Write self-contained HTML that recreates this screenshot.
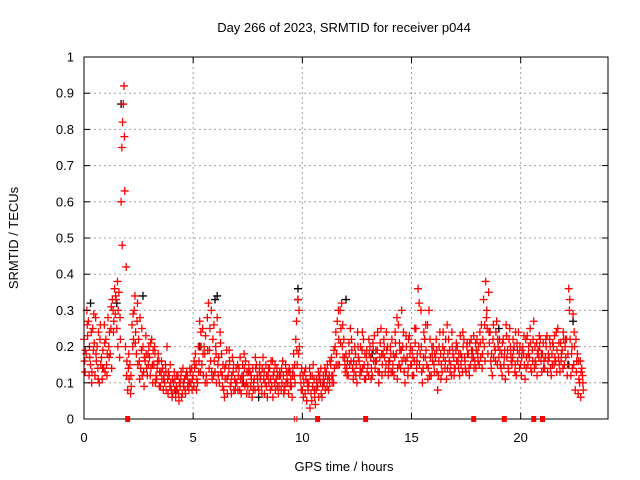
<!DOCTYPE html>
<html><head><meta charset="utf-8"><style>
html,body{margin:0;padding:0;background:#fff}
svg{display:block;font-family:"Liberation Sans",sans-serif}
</style></head><body>
<svg id="chart" width="640" height="480" viewBox="0 0 640 480" xmlns="http://www.w3.org/2000/svg">
<rect width="640" height="480" fill="#fff"/>
<text x="344" y="32" font-size="13" text-anchor="middle">Day 266 of 2023, SRMTID for receiver p044</text>
<text x="344" y="471" font-size="13" text-anchor="middle">GPS time / hours</text>
<text x="18" y="238" font-size="13" text-anchor="middle" transform="rotate(-90 18 238)">SRMTID / TECUs</text>
<g id="grid"></g>
<g id="black"></g>
<g id="red"></g>
<g id="axes"></g>
</svg>
<script>
const xTicks=[0,5,10,15,20];
const yTicks=[0,0.1,0.2,0.3,0.4,0.5,0.6,0.7,0.8,0.9,1];
const yTickLabels=["0","0.1","0.2","0.3","0.4","0.5","0.6","0.7","0.8","0.9","1"];
const redA=[.22,.18,.27,.15,.25,.12,.20,.10,.17,.14,
.22,.28,.18,.33,.36,.25,.35,.60,.87,.20,
.08,.15,.26,.30,.18,.22,.14,.20,.16,.12,
.17,.22,.15,.12,.18,.09,.14,.10,.20,.12,
.08,.10,.06,.12,.09,.07,.11,.13,.08,.10,
.12,.18,.10,.27,.15,.20,.12,.32,.16,.22,
.13,.28,.10,.18,.08,.15,.12,.09,.17,.11,
.10,.14,.07,.12,.16,.09,.13,.06,.11,.15,
.08,.12,.17,.10,.06,.14,.09,.13,.11,.07,
.12,.16,.08,.11,.14,.09,.18,.22,.33,.12,
.08,.13,.05,.10,.07,.15,.04,.09,.12,.06,
.10,.13,.08,.15,.12,.20,.27,.15,.32,.22,
.18,.12,.25,.14,.20,.10,.16,.13,.22,.11,
.15,.20,.12,.23,.16,.10,.25,.18,.13,.20,
.16,.22,.12,.18,.26,.14,.20,.10,.17,.23,
.15,.12,.25,.36,.18,.10,.22,.15,.30,.12,
.20,.17,.08,.24,.13,.19,.11,.22,.15,.18,
.14,.20,.12,.17,.22,.13,.18,.15,.19,.16,
.22,.15,.26,.33,.38,.18,.24,.12,.20,.27,
.17,.14,.22,.11,.19,.25,.15,.20,.12,.24,
.15,.20,.11,.23,.17,.13,.27,.15,.19,.22,
.18,.14,.23,.17,.12,.20,.16,.25,.13,.19,
.15,.22,.36,.12,.29,.08,.18,.10,.14];
const redB=[.16,.30,.12,.24,.19,.28,.14,.22,.11,.26,
.15,.20,.25,.30,.29,.38,.17,.75,.92,.42,
.14,.07,.20,.34,.27,.16,.19,.13,.23,.18,
.12,.15,.20,.11,.16,.13,.08,.15,.11,.09,
.06,.13,.09,.07,.11,.14,.08,.12,.10,.14,
.09,.15,.20,.13,.25,.18,.10,.14,.30,.12,
.20,.15,.24,.12,.06,.19,.14,.10,.13,.08,
.15,.08,.12,.18,.10,.13,.09,.14,.08,.12,
.13,.09,.11,.15,.12,.08,.16,.10,.14,.09,
.08,.12,.15,.10,.13,.06,.12,.27,.18,.10,
.12,.07,.10,.14,.05,.11,.08,.13,.10,.09,
.14,.09,.12,.17,.10,.24,.15,.30,.20,.17,
.14,.21,.16,.11,.18,.24,.12,.19,.15,.17,
.12,.17,.21,.14,.19,.13,.18,.22,.15,.12,
.20,.13,.17,.28,.15,.19,.24,.16,.12,.18,
.19,.16,.14,.20,.30,.14,.17,.26,.12,.20,
.15,.22,.12,.18,.20,.14,.26,.16,.12,.17,
.19,.16,.23,.13,.17,.20,.14,.22,.17,.21,
.18,.24,.14,.20,.28,.35,.16,.22,.19,.15,
.22,.18,.15,.26,.14,.20,.17,.13,.21,.18,
.12,.18,.22,.15,.25,.19,.14,.21,.17,.16,
.21,.17,.13,.22,.18,.15,.24,.17,.21,.14,
.20,.12,.30,.18,.15,.22,.07,.16,.12];
const redC=[.19,.23,.17,.13,.21,.16,.24,.15,.19,.13,
.18,.24,.14,.27,.33,.30,.22,.82,.63,.16,
.11,.09,.22,.24,.15,.28,.12,.17,.14,.20,
.14,.19,.10,.16,.13,.11,.12,.08,.13,.10,
.07,.11,.08,.10,.06,.09,.12,.10,.13,.11,
.14,.11,.16,.20,.12,.23,.19,.25,.11,.16,
.10,.17,.13,.15,.11,.07,.16,.12,.08,.14,
.12,.11,.15,.09,.13,.07,.11,.10,.14,.09,
.11,.14,.07,.12,.10,.16,.12,.08,.12,.13,
.10,.09,.13,.07,.11,.14,.10,.15,.20,.14,
.10,.11,.08,.12,.09,.06,.10,.11,.07,.12,
.12,.11,.16,.10,.14,.18,.22,.25,.17,.13,
.16,.15,.19,.13,.15,.17,.20,.14,.18,.13,
.18,.14,.16,.19,.13,.21,.15,.17,.19,.16,
.13,.18,.21,.14,.19,.16,.13,.20,.22,.15,
.17,.21,.18,.15,.13,.24,.19,.14,.17,.16,
.18,.13,.20,.15,.17,.22,.18,.13,.20,.14,
.16,.18,.15,.20,.14,.18,.21,.17,.14,.19,
.20,.17,.22,.16,.25,.21,.18,.17,.24,.20,
.15,.21,.19,.17,.22,.16,.19,.24,.16,.20,
.19,.15,.17,.20,.14,.22,.16,.18,.20,.13,
.16,.20,.18,.14,.21,.17,.19,.15,.18,.22,
.17,.18,.22,.14,.20,.16,.11,.13,.08];
const redD=[.13,.26,.20,.10,.29,.18,.11,.26,.14,.21,
.12,.17,.31,.24,.34,.20,.28,.48,.78,.12,
.18,.12,.29,.21,.32,.11,.25,.09,.18,.15,
.21,.10,.18,.14,.09,.16,.11,.13,.07,.15,
.11,.08,.12,.05,.13,.10,.07,.09,.14,.08,
.16,.08,.13,.24,.18,.10,.28,.19,.13,.26,
.18,.12,.21,.09,.14,.11,.19,.07,.15,.10,
.08,.17,.10,.14,.07,.15,.12,.08,.17,.11,
.15,.07,.13,.09,.14,.11,.06,.15,.09,.12,
.14,.07,.10,.13,.09,.12,.15,.19,.30,.08,
.06,.14,.09,.03,.12,.08,.11,.06,.14,.10,
.08,.15,.10,.12,.19,.15,.30,.21,.26,.15,
.12,.18,.22,.16,.12,.20,.14,.24,.11,.19,
.22,.11,.19,.16,.24,.17,.12,.20,.24,.14,
.18,.15,.24,.11,.21,.30,.17,.23,.14,.20,
.12,.25,.16,.32,.20,.17,.26,.11,.22,.18,
.13,.19,.16,.11,.24,.16,.14,.19,.24,.12,
.21,.14,.18,.24,.16,.21,.12,.19,.23,.14,
.16,.21,.18,.26,.30,.24,.14,.26,.16,.22,
.19,.12,.17,.23,.13,.18,.22,.15,.19,.14,
.17,.23,.14,.18,.21,.16,.20,.12,.23,.18,
.14,.22,.16,.20,.15,.23,.13,.21,.16,.24,
.22,.15,.33,.20,.24,.13,.16,.06,.10];
const blackT=[0.3,1.5,1.7,2.7,5.3,6.0,6.1,8.0,9.8,9.8,12.0,13.2,19.0,22.2,22.4,4.2,7.3,15.6];
const blackV=[.32,.32,.87,.34,.20,.33,.34,.06,.36,.33,.33,.18,.25,.15,.27,.08,.10,.22];
const gapT=[2.0,10.7,12.9,17.85,19.25,20.6,21.0];
const slipT=[9.68];

const L=84,R=608,T=57,B=419,XMAX=24;
const sx=t=>L+t/XMAX*(R-L);
const sy=v=>B-v*(B-T);
const NS="http://www.w3.org/2000/svg";
function mk(tag,attrs,parent){const e=document.createElementNS(NS,tag);for(const k in attrs)e.setAttribute(k,attrs[k]);parent.appendChild(e);return e;}
const grid=document.getElementById('grid'),axes=document.getElementById('axes');
yTicks.forEach((v,i)=>{
  if(v>0&&v<1){const g=mk('line',{x1:L,x2:R,y1:sy(v),y2:sy(v),stroke:'#a0a0a0','stroke-dasharray':'2,3'},grid);
  
  }
  const t=mk('text',{x:L-10,y:sy(v)+4.5,'font-size':13,'text-anchor':'end'},axes);t.textContent=yTickLabels[i];
  
  
  mk('line',{x1:L,x2:L+6,y1:sy(v),y2:sy(v),stroke:'#000'},axes);
  mk('line',{x1:R,x2:R-6,y1:sy(v),y2:sy(v),stroke:'#000'},axes);
});
xTicks.forEach(v=>{
  if(v>0){const g=mk('line',{x1:sx(v),x2:sx(v),y1:T,y2:B,stroke:'#a0a0a0','stroke-dasharray':'2,3'},grid);
  
  }
  const t=mk('text',{x:sx(v),y:B+23,'font-size':13,'text-anchor':'middle'},axes);t.textContent=String(v);
  
  
  mk('line',{x1:sx(v),x2:sx(v),y1:B,y2:B-6,stroke:'#000'},axes);
  mk('line',{x1:sx(v),x2:sx(v),y1:T,y2:T+6,stroke:'#000'},axes);
});
const frame=mk('rect',{x:L,y:T,width:R-L,height:B-T,fill:'none',stroke:'#000'},axes);


function plus(g,x,y,c){let d=`M${x-4},${y}h8M${x},${y-4}v8`;const p=mk('path',{d:d,stroke:c,'stroke-width':1.3,fill:'none'},g);return p;}
const bg=document.getElementById('black');
blackT.forEach((t,i)=>{const p=plus(bg,sx(t),sy(blackV[i]),'#000');
  
  });
const rg=document.getElementById('red');
[[redA,0],[redB,0.033],[redC,0.066],[redD,0.05]].forEach(([arr,off])=>{
  arr.forEach((v,i)=>{const p=plus(rg,sx(i*0.1+off),sy(v),'#f00');
    
    });
});
gapT.forEach(t=>{const r=mk('rect',{x:sx(t)-2.5,y:B-3,width:5,height:6,fill:'#f00'},axes);
  
  });
slipT.forEach(t=>{const p=mk('path',{d:`M${sx(t)-1},${B-3}v6M${sx(t)+1.5},${B-3}v6`,stroke:'#f00'},axes);
  
  });
</script>
</body></html>
